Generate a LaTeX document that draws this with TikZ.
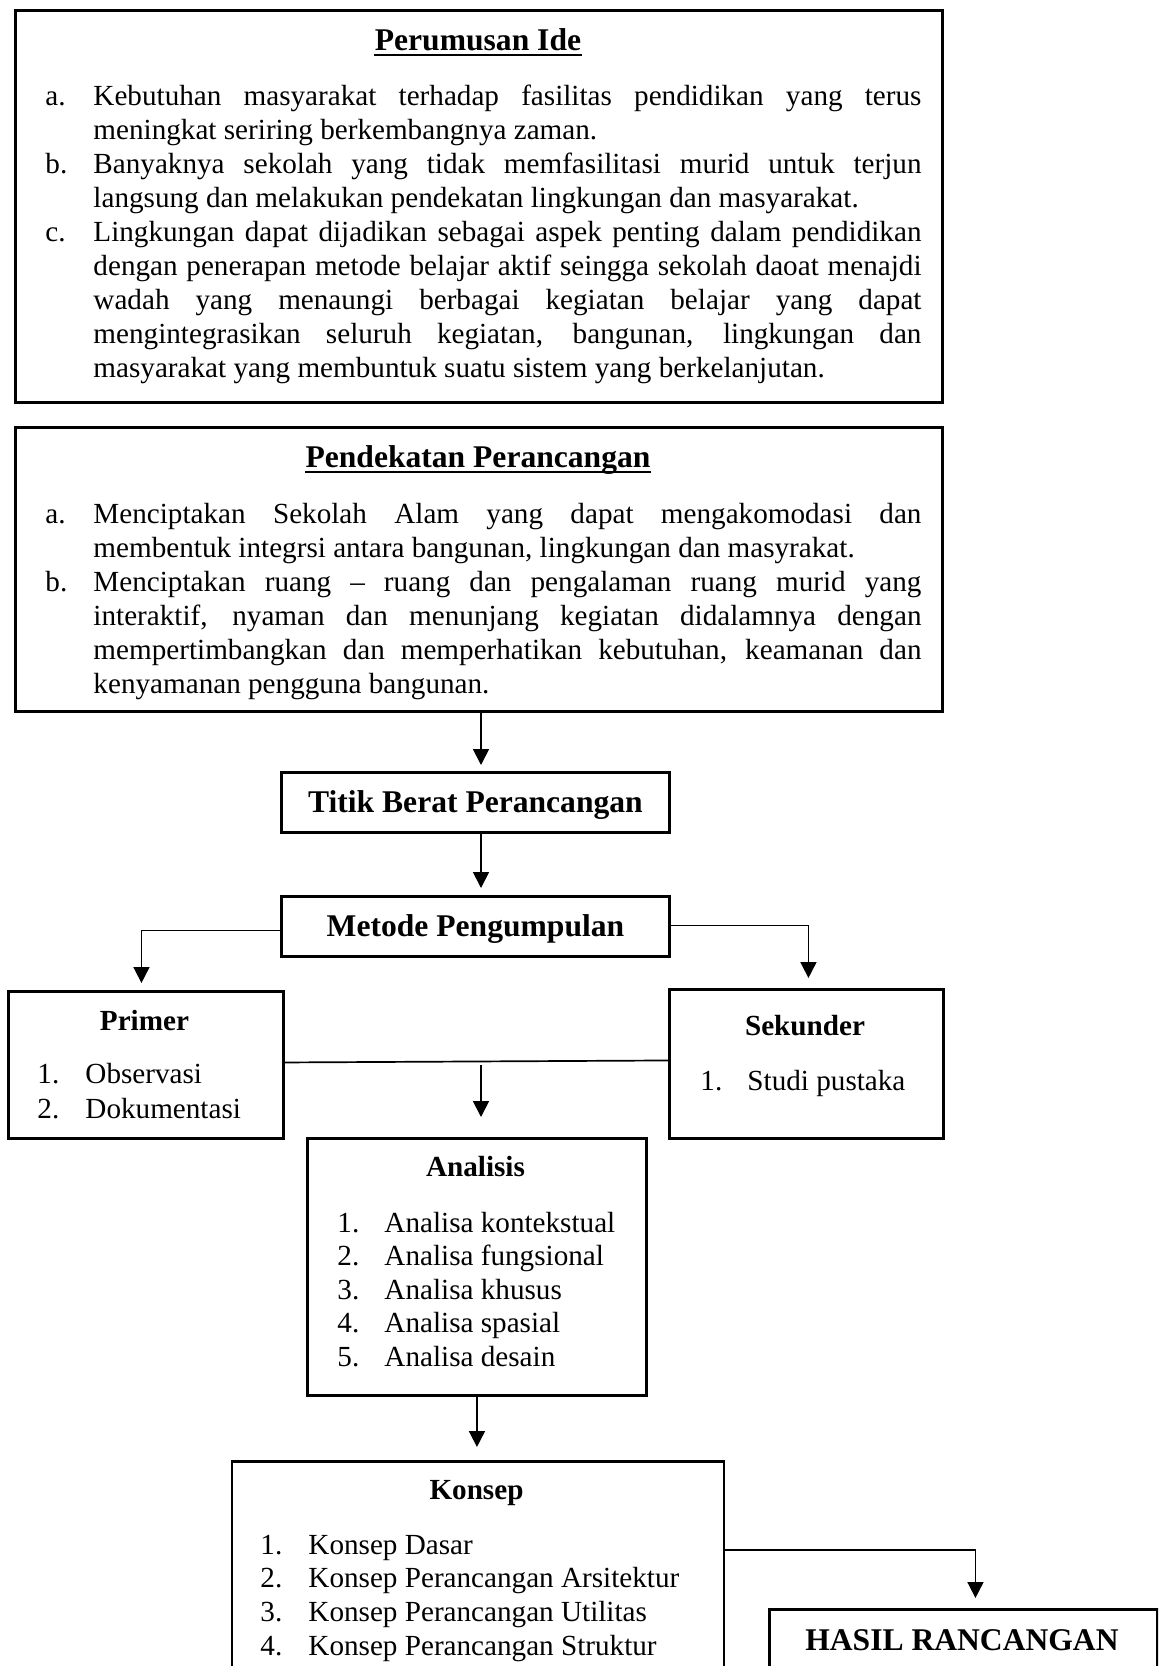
\documentclass[tikz,border=0pt]{standalone}
\usepackage{fontspec}
\setmainfont{Liberation Serif}
\usetikzlibrary{arrows.meta,calc}
\newdimen\pxu \pxu=0.4115pt
\newdimen\indw \indw=48\pxu
\newcommand\jfirst[2]{\hbox to \hsize{\hbox to \indw{#1\hfil}#2}}
\newcommand\nfirst[2]{\hbox{\hbox to \indw{#1\hfil}#2}}
\newcommand\jmid[1]{\hbox to \hsize{\hskip\indw #1}}
\newcommand\nlast[1]{\hbox{\hskip\indw #1}}
\newcommand\vlist[3]{\vtop{\hsize=#1\relax\baselineskip=#2\relax #3}}
\begin{document}
\begin{tikzpicture}[x=0.4115pt, y=-0.4115pt,
  box/.style={draw, line width=1.2pt, anchor=north west, inner sep=0pt},
  hbox/.style={box, font=\fontsize{13}{15}\selectfont\bfseries, text height=11.4pt, text depth=2.9pt},
  ttl/.style={font=\fontsize{13}{15}\selectfont\bfseries, inner sep=0pt, anchor=base},
  sub/.style={font=\fontsize{12}{14}\selectfont\bfseries, inner sep=0pt, anchor=base},
  lst/.style={font=\fontsize{12}{14}\selectfont, inner sep=0pt, anchor=base west},
  uline/.style={line width=1.2pt},
  conn/.style={line width=0.7pt},
  arr/.style={conn, -{Triangle[length=6.5pt,width=6.5pt]}},
]
\useasboundingbox (0,0) rectangle (1158,1666);
\clip (0,0) rectangle (1158,1666);

% boxes
\node[box, minimum width={927*\pxu}, minimum height={392*\pxu}] (b1) at (14,9) {};
\node[box, minimum width={927*\pxu}, minimum height={284*\pxu}] (b2) at (14,426) {};
\node[hbox, minimum width={388*\pxu}, minimum height={60*\pxu}] (titik) at (280,771) {Titik Berat Perancangan};
\node[hbox, minimum width={388*\pxu}, minimum height={60*\pxu}] (metode) at (280,895) {Metode Pengumpulan};
\node[box, minimum width={275*\pxu}, minimum height={147*\pxu}] (primer) at (7,990) {};
\node[box, minimum width={274*\pxu}, minimum height={149*\pxu}] (sek) at (668,988) {};
\node[box, minimum width={339*\pxu}, minimum height={257*\pxu}] (ana) at (306,1137) {};
\node[box, minimum width={492*\pxu}, minimum height={300*\pxu}] (kon) at (230.5,1460) {};
\node[box, minimum width={388*\pxu}, minimum height={150*\pxu}] (hasil) at (768,1608) {};

% box 1
\node[ttl] (h1) at (478,50) {Perumusan Ide};
\draw[uline] ($(h1.base west)+(0,5)$) -- ($(h1.base east)+(0,5)$);
\node[lst] (l1) at (45,105) {\vlist{876\pxu}{34\pxu}{%
\jfirst{a.}{Kebutuhan masyarakat terhadap fasilitas pendidikan yang terus}%
\nlast{meningkat seriring berkembangnya zaman.}%
\jfirst{b.}{Banyaknya sekolah yang tidak memfasilitasi murid untuk terjun}%
\nlast{langsung dan melakukan pendekatan lingkungan dan masyarakat.}%
\jfirst{c.}{Lingkungan dapat dijadikan sebagai aspek penting dalam pendidikan}%
\jmid{dengan penerapan metode belajar aktif seingga sekolah daoat menajdi}%
\jmid{wadah yang menaungi berbagai kegiatan belajar yang dapat}%
\jmid{mengintegrasikan seluruh kegiatan, bangunan, lingkungan dan}%
\nlast{masyarakat yang membuntuk suatu sistem yang berkelanjutan.}}};

% box 2
\node[ttl] (h2) at (478,467) {Pendekatan Perancangan};
\draw[uline] ($(h2.base west)+(0,5)$) -- ($(h2.base east)+(0,5)$);
\node[lst] (l2) at (45,523) {\vlist{876\pxu}{34\pxu}{%
\jfirst{a.}{Menciptakan Sekolah Alam yang dapat mengakomodasi dan}%
\nlast{membentuk integrsi antara bangunan, lingkungan dan masyrakat.}%
\jfirst{b.}{Menciptakan ruang – ruang dan pengalaman ruang murid yang}%
\jmid{interaktif, nyaman dan menunjang kegiatan didalamnya dengan}%
\jmid{mempertimbangkan dan memperhatikan kebutuhan, keamanan dan}%
\nlast{kenyamanan pengguna bangunan.}}};

% primer
\node[sub] (pt) at (144.5,1030) {Primer};
\node[lst] (pl) at (37,1083) {\vlist{240\pxu}{35\pxu}{%
\nfirst{1.}{Observasi}\nfirst{2.}{Dokumentasi}}};

% sekunder
\node[sub] (st) at (805,1035) {Sekunder};
\node[lst] (sl) at (700,1090) {\vlist{230\pxu}{34\pxu}{\indw=47\pxu\relax
\nfirst{1.}{Studi pustaka}}};

% analisis
\node[sub] (at) at (475.5,1176) {Analisis};
\node[lst] (al) at (337,1232) {\vlist{300\pxu}{33.5\pxu}{\indw=47\pxu\relax
\nfirst{1.}{Analisa kontekstual}\nfirst{2.}{Analisa fungsional}\nfirst{3.}{Analisa khusus}%
\nfirst{4.}{Analisa spasial}\nfirst{5.}{Analisa desain}}};

% konsep
\node[sub] (kt) at (476.5,1499) {Konsep};
\node[lst] (kl) at (260,1554) {\vlist{450\pxu}{33.7\pxu}{%
\nfirst{1.}{Konsep Dasar}\nfirst{2.}{Konsep Perancangan Arsitektur}%
\nfirst{3.}{Konsep Perancangan Utilitas}\nfirst{4.}{Konsep Perancangan Struktur}}};

% hasil
\node[ttl] (ht) at (962,1650) {HASIL RANCANGAN};

% connectors
\coordinate (cx) at (481,0);
\draw[arr, shorten >={6*\pxu}] (cx |- b2.south) -- (cx |- titik.north);
\draw[arr, shorten >={7*\pxu}] (cx |- titik.south) -- (cx |- metode.north);
\draw[arr, shorten >={7*\pxu}] ($(metode.west)+(0,4)$) -| ($(primer.north)+(-4.5,0)$);
\draw[arr, shorten >={10*\pxu}] ($(metode.east)+(0,-1)$) -| ($(sek.north)+(2,0)$);
\draw[conn] ($(primer.east)+(0,-2.5)$) -- ($(sek.west)+(0,-3.5)$);
\draw[arr, shorten >={20*\pxu}] (cx |- primer.east) -- (cx |- ana.north);
\draw[arr, shorten >={13*\pxu}] (ana.south) -- (ana.south |- kon.north);
\draw[arr, shorten >={10*\pxu}] ($(kon.north east)+(0,90)$) -| ($(hasil.north)+(12,0)$);
\end{tikzpicture}
\end{document}
